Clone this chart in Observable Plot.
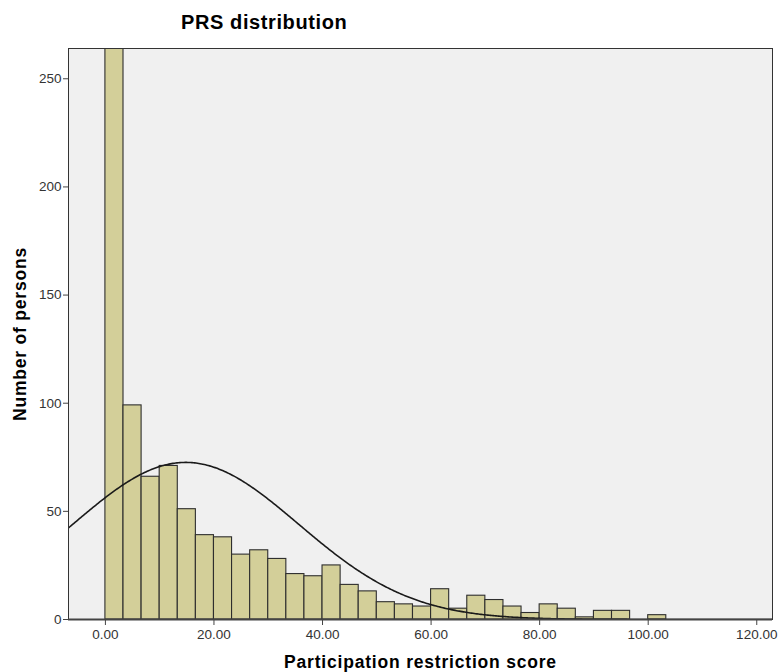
<!DOCTYPE html>
<html>
<head>
<meta charset="utf-8">
<script src="https://cdn.jsdelivr.net/npm/d3@7"></script>
<script src="https://cdn.jsdelivr.net/npm/@observablehq/plot@0.6"></script>
<style>
  html, body { margin: 0; padding: 0; background: #ffffff; }
  body { width: 780px; height: 672px; overflow: hidden; font-family: "Liberation Sans", Arial, sans-serif; }
  #title { height: 40px; box-sizing: border-box; padding-left: 181px; padding-top: 11px; font-size: 20px; letter-spacing: 0.6px; font-weight: bold; color: #000; line-height: 22px; }
  #chart svg { display: block; }
</style>
</head>
<body>
<div id="title">PRS distribution</div>
<div id="chart"></div>
<script>
// Histogram: bins of width 100/30 starting at 0 (last bin 100–103.33)
const binWidth = 100 / 30;
const counts = [495, 99, 66, 71, 51, 39, 38, 30, 32, 28, 21, 20, 25, 16, 13, 8, 7, 6, 14, 5, 11, 9, 6, 3, 7, 5, 1, 4, 4, 0, 2];
// Fitted normal curve parameters
const curveMean = 14.8;
const curveSD = 20.8;
const curveN = 1136;
// Axis ticks
const xTicks = [0, 20, 40, 60, 80, 100, 120];
const yTicks = [0, 50, 100, 150, 200, 250];
const xDomain = [-6.8, 122.9];
const yDomain = [0, 264];

const bins = counts.map((c, i) => ({x1: i * binWidth, x2: (i + 1) * binWidth, count: c}));
const curve = d3.range(xDomain[0], xDomain[1] + 0.25, 0.25).map(x => ({
  x,
  y: curveN * binWidth * Math.exp(-((x - curveMean) ** 2) / (2 * curveSD ** 2)) / (curveSD * Math.sqrt(2 * Math.PI))
}));

const chart = Plot.plot({
  width: 780,
  height: 632,
  marginLeft: 68,
  marginRight: 8,
  marginTop: 8,
  marginBottom: 53,
  style: {fontFamily: "'Liberation Sans', Arial, sans-serif", fontSize: "13.5px", color: "#333", background: "#fff"},
  x: {domain: xDomain},
  y: {domain: yDomain},
  marks: [
    Plot.frame({fill: "#f0f0f0", stroke: null}),
    Plot.rectY(bins, {x1: "x1", x2: "x2", y: "count", inset: 0, fill: "#d3cf99", stroke: "#2e2e2e", strokeWidth: 1.1, clip: true}),
    Plot.line(curve, {x: "x", y: "y", stroke: "#1a1a1a", strokeWidth: 1.6, clip: true}),
    Plot.frame({stroke: "#333", strokeWidth: 1}),
    Plot.ruleY([0], {stroke: "#444", strokeWidth: 2}),
    Plot.axisX({ticks: xTicks, tickFormat: d3.format(".2f"), tickSize: 6, tickPadding: 4, label: null, stroke: "#444"}),
    Plot.axisY({ticks: yTicks, tickSize: 5, tickPadding: 2, label: null, stroke: "#444"}),
    Plot.text(["Participation restriction score"], {frameAnchor: "bottom", lineAnchor: "middle", textAnchor: "middle", dy: 43, fontSize: 17.5, fontWeight: "bold", fill: "#000", style: "letter-spacing: 0.8px"}),
    Plot.text(["Number of persons"], {frameAnchor: "left", lineAnchor: "middle", textAnchor: "middle", dx: -48, rotate: -90, fontSize: 17.5, fontWeight: "bold", fill: "#000"})
  ]
});
// letter spacing for axis titles
chart.querySelectorAll("text").forEach(t => {
  if (t.textContent === "Participation restriction score" || t.textContent === "Number of persons") t.setAttribute("letter-spacing", "0.8");
});
document.getElementById("chart").appendChild(chart);
</script>
</body>
</html>
